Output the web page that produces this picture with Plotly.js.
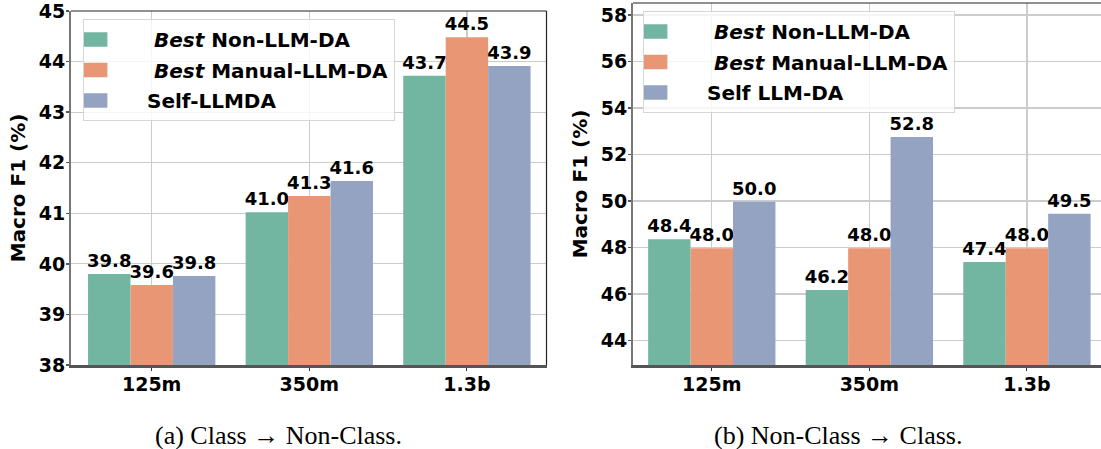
<!DOCTYPE html>
<html>
<head>
<meta charset="utf-8">
<script src="https://cdn.plot.ly/plotly-3.0.1.min.js"></script>
<style>html,body{margin:0;padding:0;background:#fff;}</style>
</head>
<body>
<div id="chart" style="width:1101px;height:449px;"></div>
<script>
const categories = ['125m', '350m', '1.3b'];
const seriesNamesA = ['\u00a0<i>Best</i> Non-LLM-DA', '\u00a0<i>Best</i> Manual-LLM-DA', 'Self-LLMDA'];
const seriesNamesB = ['\u00a0<i>Best</i> Non-LLM-DA', '\u00a0<i>Best</i> Manual-LLM-DA', 'Self LLM-DA'];
// (a) Class -> Non-Class
const aNonLLM = [39.80, 41.02, 43.72];
const aManual = [39.58, 41.34, 44.48];
const aSelf   = [39.76, 41.64, 43.91];
// (b) Non-Class -> Class
const bNonLLM = [48.36, 46.18, 47.38];
const bManual = [47.97, 47.97, 47.97];
const bSelf   = [49.97, 52.76, 49.46];
const yTicksA = [38, 39, 40, 41, 42, 43, 44, 45];
const yTicksB = [44, 46, 48, 50, 52, 54, 56, 58];
const captions = ['(a) Class \u2192 Non-Class.', '(b) Non-Class \u2192 Class.'];

const colors = ['#72b6a1', '#e99675', '#95a3c3'];
const FONT = 'DejaVu Sans, sans-serif';

function mk(y, name, color, xa, ya, lg, grp) {
  return {
    type: 'bar', x: categories, y: y, name: name,
    xaxis: xa, yaxis: ya, legend: lg, legendgroup: grp,
    marker: {color: color, line: {width: 0}},
    texttemplate: '%{y:.1f}', textposition: 'outside',
    constraintext: 'none', cliponaxis: false,
    textfont: {family: FONT, size: 18, weight: 'bold', color: '#000'},
    hoverinfo: 'skip'
  };
}

const aSeries = [aNonLLM, aManual, aSelf];
const bSeries = [bNonLLM, bManual, bSelf];
const data = [];
aSeries.forEach((s, i) => data.push(mk(s, seriesNamesA[i], colors[i], 'x', 'y', 'legend', 'a' + i)));
bSeries.forEach((s, i) => data.push(mk(s, seriesNamesB[i], colors[i], 'x2', 'y2', 'legend2', 'b' + i)));

const W = 1101, H = 449;
const tickfont = {family: FONT, size: 19, weight: 'bold', color: '#000'};
const xBase = {
  type: 'category', showgrid: true, gridcolor: '#cccccc', gridwidth: 1.2,
  showline: true, linecolor: '#555', linewidth: 2.5,
  ticks: 'outside', ticklen: 3, tickcolor: '#333', tickwidth: 1,
  ticklabelstandoff: -2,
  tickfont: tickfont, zeroline: false, fixedrange: true
};
const yBase = {
  showgrid: true, gridcolor: '#cccccc', gridwidth: 1.2,
  showline: true, linecolor: '#777', linewidth: 2,
  ticks: 'outside', ticklen: 3, tickcolor: '#555', tickwidth: 1.5,
  ticklabelstandoff: -3, ticklabeloverflow: 'allow',
  tickfont: tickfont, zeroline: false, fixedrange: true,
  title: {text: 'Macro F1 (%)', font: {family: FONT, size: 20, weight: 'bold', color: '#000'}, standoff: 8}
};
const yDomBot = (H - 365) / H;

const legendBase = {
  xanchor: 'left', yanchor: 'top',
  font: {family: FONT, size: 20, weight: 'bold', color: '#000'},
  bgcolor: 'rgba(255,255,255,0.8)', bordercolor: '#d6d6d6', borderwidth: 1,
  itemwidth: 53, traceorder: 'grouped', tracegroupgap: 1.5
};

const layout = {
  width: W, height: H,
  margin: {l: 0, r: 0, t: 0, b: 0},
  paper_bgcolor: '#fff', plot_bgcolor: '#fff',
  barmode: 'group', bargap: 0.192, bargroupgap: 0,
  showlegend: true,
  xaxis: Object.assign({}, xBase, {domain: [71 / W, 546.5 / W], range: [-0.512, 2.505], anchor: 'y'}),
  yaxis: Object.assign({}, yBase, {domain: [yDomBot, (H - 11) / H], range: [38, 45], tickvals: yTicksA, anchor: 'x'}),
  xaxis2: Object.assign({}, xBase, {domain: [633 / W, 1], range: [-0.50, 2.47], anchor: 'y2'}),
  yaxis2: Object.assign({}, yBase, {domain: [yDomBot, (H - 3) / H], range: [42.95, 58.52], tickvals: yTicksB, anchor: 'x2'}),
  legend: Object.assign({}, legendBase, {x: 83 / W, y: 1 - 19 / H}),
  legend2: Object.assign({}, legendBase, {x: 643 / W, y: 1 - 11 / H}),
  shapes: [
    {type: 'line', xref: 'x domain', yref: 'y domain', x0: 0, x1: 1, y0: 1, y1: 1, line: {color: '#222', width: 1.2}},
    {type: 'line', xref: 'x domain', yref: 'y domain', x0: 1, x1: 1, y0: 0, y1: 1, line: {color: '#222', width: 1.2}},
    {type: 'line', xref: 'x2 domain', yref: 'y2 domain', x0: 0, x1: 1, y0: 1, y1: 1, line: {color: '#222', width: 1.2}}
  ],
  annotations: [
    {text: captions[0], xref: 'paper', yref: 'paper', x: 278 / W, y: 1 - 435 / H, xanchor: 'center', yanchor: 'middle', showarrow: false,
     font: {family: 'Liberation Serif, Times New Roman, serif', size: 26, color: '#000'}},
    {text: captions[1], xref: 'paper', yref: 'paper', x: 838 / W, y: 1 - 435 / H, xanchor: 'center', yanchor: 'middle', showarrow: false,
     font: {family: 'Liberation Serif, Times New Roman, serif', size: 26, color: '#000'}}
  ]
};

Plotly.newPlot('chart', data, layout, {displayModeBar: false, staticPlot: true}).then(function () {
  // widen the legend swatches to the reference's wide rectangles
  document.querySelectorAll('.legendpoints path').forEach(function (p) {
    p.setAttribute('transform', 'translate(3,0) scale(3.4,1.2)');
  });
});
</script>
</body>
</html>
